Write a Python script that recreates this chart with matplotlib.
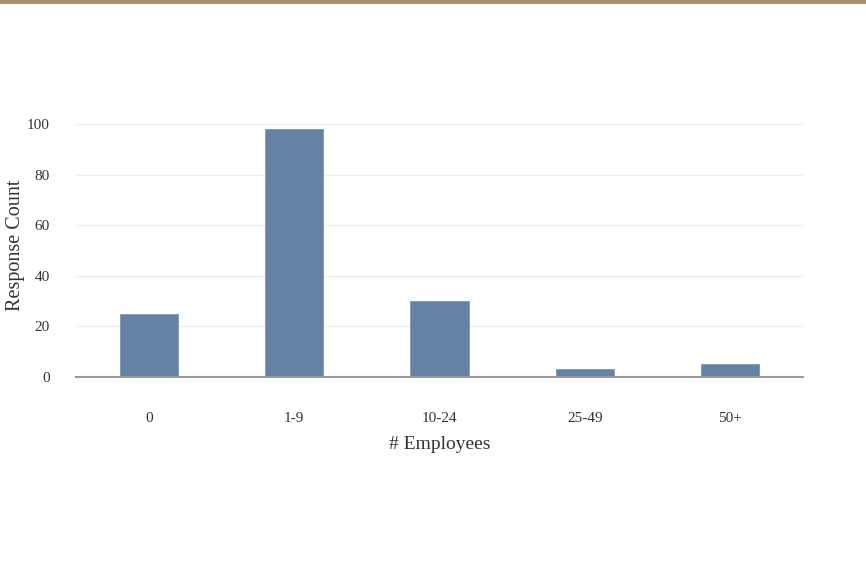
import matplotlib.pyplot as plt
from matplotlib.lines import Line2D

categories = ["0", "1-9", "10-24", "25-49", "50+"]
counts = [25, 98, 30, 3, 5]
y_ticks = [0, 20, 40, 60, 80, 100]

plt.rcParams['font.family'] = ['Liberation Serif', 'DejaVu Serif']

fig = plt.figure(figsize=(8.66, 5.61), dpi=100)
ax = fig.add_axes([0.0878, 0.328, 0.8395, 0.451])

# brown strip along the top of the page
fig.add_artist(Line2D([0, 1], [0.9975, 0.9975], transform=fig.transFigure,
                      color='#ae8e70', linewidth=3.5))

x = range(len(categories))
ax.bar(x, counts, width=0.4, color='#6482a4', edgecolor='#7f98b6',
       linewidth=0.6, zorder=3)

ax.set_xlim(-0.5, len(categories) - 0.5)
ax.set_ylim(0, 100)
ax.set_yticks(y_ticks)
ax.set_xticks(list(x))
ax.set_xticklabels(categories)

ax.grid(axis='y', color='#eeeeee', linewidth=1, zorder=0)
for s in ['top', 'right', 'left']:
    ax.spines[s].set_visible(False)
ax.spines['bottom'].set_color('#999999')
ax.spines['bottom'].set_linewidth(1.5)
ax.spines['bottom'].set_zorder(4)

ax.tick_params(axis='y', length=0, pad=19, labelsize=11, labelcolor='#333333')
ax.tick_params(axis='x', length=0, pad=25, labelsize=11, labelcolor='#333333')

ax.set_xlabel("# Employees", fontsize=14, color='#333333', labelpad=8)
ax.set_ylabel("Response Count", fontsize=14.5, color='#333333')
ax.yaxis.set_label_coords(-0.070, 0.52)

fig.savefig("out.png", dpi=100)
